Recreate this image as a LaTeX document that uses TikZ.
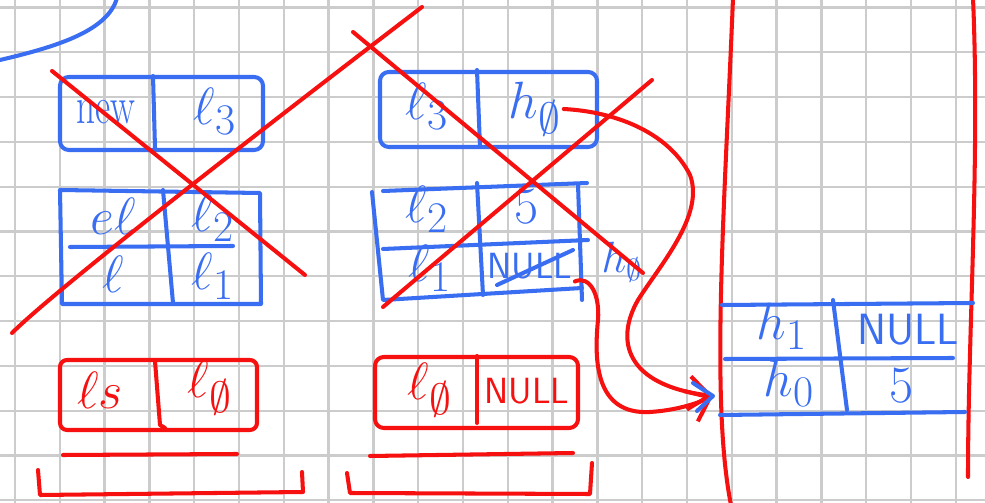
\documentclass[tikz,border=0pt]{standalone}
\usepackage{tikz}
\usetikzlibrary{arrows.meta}

\definecolor{penblue}{RGB}{58,110,242}
\definecolor{penred}{RGB}{246,16,16}

\begin{document}
\begin{tikzpicture}[x=0.02cm,y=-0.02cm,
    pen/.style={line width=2.3pt,line cap=round,line join=round},
    bpen/.style={pen,draw=penblue},
    rpen/.style={pen,draw=penred},
    blbl/.style={inner sep=1pt,scale=1.2,text=penblue,font=\Huge},
    rlbl/.style={inner sep=1pt,scale=1.2,text=penred,font=\Huge},
    barb/.style={-{Straight Barb[length=12pt,width=19pt]}}]
  \useasboundingbox (0,0) rectangle (985,503);
  \fill[white] (0,0) rectangle (985,503);

  \foreach \k in {0,...,21}
    \draw[gray!40,line width=1.3pt] ({15+44.8*\k},0) -- ++(0,503);
  \foreach \k in {0,...,11}
    \draw[gray!40,line width=1.3pt] (0,{7.5+44.8*\k}) -- ++(985,0);

  \draw[bpen] (0,60) .. controls (60,46) and (108,30) .. (117,-2);

  % left column
  \draw[bpen,rounded corners=5] (60,77) rectangle (263,150);
  \draw[bpen] (153,76) -- (155,148);
  \node[blbl,font=\huge,xscale=0.85,yscale=1.2] (Anew) at (106,112) {new};
  \node[blbl] (Al3) at (215,111) {$\ell_3$};

  \draw[bpen] (60,190) -- (260,193) -- (261,304) -- (62,304) -- cycle;
  \draw[bpen] (70,247) -- (233,246);
  \draw[bpen] (163,190) -- (173,303);
  \node[blbl] (Bel) at (113,216) {$e\ell$};
  \node[blbl] (Bl2) at (213,218) {$\ell_2$};
  \node[blbl] (Bl) at (113,274) {$\ell$};
  \node[blbl] (Bl1) at (213,276) {$\ell_1$};

  % middle column
  \draw[bpen,rounded corners=5] (380,72) rectangle (597,147);
  \draw[bpen] (477,70) -- (480,147);
  \node[blbl] (Cl3) at (427,106) {$\ell_3$};
  \node[blbl] (Ch0) at (535,109) {$h_\emptyset$};

  \draw[bpen] (383,191) -- (587,183);
  \draw[bpen] (372,192) -- (383,300) -- (582,288);
  \draw[bpen] (578,184) -- (582,300);
  \draw[bpen] (383,249) -- (588,240);
  \draw[bpen] (477,183) -- (483,295);
  \node[blbl] (Dl2) at (427,209) {$\ell_2$};
  \node[blbl] (D5) at (527,207) {$5$};
  \node[blbl] (Dl1) at (430,268) {$\ell_1$};
  \node[blbl,font=\LARGE\sffamily] (Dnull) at (530,266) {NULL};
  \draw[bpen] (497,285) -- (573,250);
  \node[blbl,font=\huge] (Dh0) at (622,262) {$h_\emptyset$};

  % crossed out
  \draw[rpen] (52,71) -- (305,275);
  \draw[rpen] (12,333) .. controls (40,305) and (150,215) .. (422,7);
  \draw[rpen] (353,32) -- (643,273);
  \draw[rpen] (383,307) -- (652,80);

  % bottom
  \draw[rpen,rounded corners=4] (60,360) rectangle (257,430);
  \draw[rpen] (155,361) -- (160,425) -- (165,428);
  \node[rlbl] (El) at (100,390) {$\ell s$};
  \node[rlbl] (El0) at (210,388) {$\ell_\emptyset$};
  \draw[rpen] (63,455) -- (237,454);
  \draw[rpen] (38,470) -- (40,495) -- (303,492) -- (302,472);

  \draw[rpen,rounded corners=5] (375,357) rectangle (578,428);
  \draw[rpen] (477,356) -- (477,423);
  \node[rlbl] (Fl0) at (430,390) {$\ell_\emptyset$};
  \node[rlbl,font=\LARGE\sffamily] (Fnull) at (527,391) {NULL};
  \draw[rpen] (370,456) -- (573,453);
  \draw[rpen] (347,473) -- (350,493) -- (590,494) -- (592,463);

  % right column
  \draw[rpen] (733,-2) .. controls (725,200) and (710,400) .. (731,505);
  \draw[rpen] (973,-2) .. controls (980,160) and (968,330) .. (968,477);
  \draw[bpen] (722,305) -- (973,303);
  \draw[bpen] (725,359) -- (953,358);
  \draw[bpen] (720,415) -- (965,412);
  \draw[bpen] (833,300) -- (847,410);
  \node[blbl] (Th1) at (782,326) {$h_1$};
  \node[blbl,font=\huge\sffamily] (Tnull) at (908,330) {NULL};
  \node[blbl] (Th0) at (789,383) {$h_0$};
  \node[blbl] (T5) at (902,386) {$5$};

  \coordinate (tip) at (713,396);
  \draw[rpen,barb] (Ch0.east) .. controls (620,112) and (670,135) .. (690,175)
    .. controls (705,215) and (660,265) .. (638,300)
    .. controls (615,340) and (625,385) .. (tip);
  \draw[rpen,barb] (Dnull.south east) .. controls (590,275) and (600,295) .. (598,320)
    .. controls (594,360) and (595,415) .. (650,412)
    .. controls (680,410) and (700,402) .. (tip);
  \draw[bpen] (tip) ++(-20,-13) -- (tip) -- ++(-16,15);
\end{tikzpicture}
\end{document}
